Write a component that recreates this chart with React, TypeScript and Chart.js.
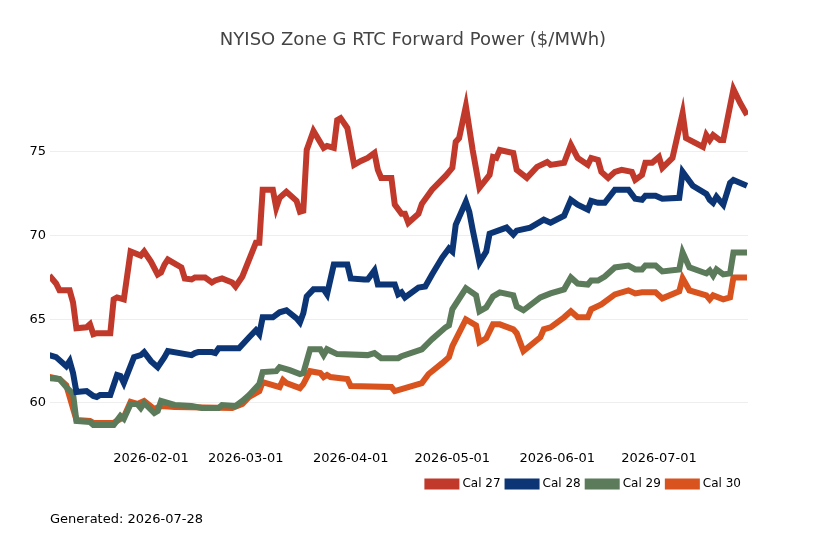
import React, { useEffect, useRef } from "react";
import { Chart, registerables } from "chart.js";
Chart.register(...registerables);

// [day offset from 2026-01-01, $/MWh]
const cal27: [number, number][] = [
  [1,67.62],[3,67.14],[4,66.73],[7,66.73],[8,66.01],[9,64.46],[12,64.52],[13,64.70],[14,64.11],[15,64.17],
  [19,64.17],[20,66.19],[21,66.31],[23,66.19],[25,69.05],[28,68.81],[29,69.05],[31,68.45],[33,67.68],[34,67.80],
  [35,68.27],[36,68.57],[40,68.10],[41,67.44],[43,67.38],[44,67.50],[47,67.50],[49,67.20],[50,67.32],[52,67.44],
  [55,67.20],[56,66.96],[58,67.56],[62,69.58],[63,69.58],[64,72.74],[67,72.74],[68,71.67],[69,72.26],[71,72.62],
  [74,72.08],[75,71.43],[76,71.49],[77,75.12],[79,76.25],[82,75.24],[83,75.36],[85,75.24],[86,76.90],[87,77.02],
  [89,76.43],[91,74.23],[93,74.46],[95,74.64],[97,74.94],[98,73.93],[99,73.45],[102,73.45],[103,71.85],[105,71.31],
  [106,71.31],[107,70.77],[110,71.31],[111,71.90],[114,72.74],[118,73.57],[120,74.05],[121,75.60],[122,75.83],[124,77.74],
  [126,75.12],[128,72.86],[131,73.63],[132,74.70],[133,74.64],[134,75.12],[138,74.94],[139,73.93],[142,73.45],[145,74.11],
  [148,74.40],[149,74.23],[153,74.35],[155,75.42],[157,74.64],[160,74.23],[161,74.64],[163,74.52],[164,73.81],[166,73.45],
  [168,73.81],[170,73.93],[173,73.81],[174,73.33],[176,73.63],[177,74.35],[179,74.35],[181,74.70],[182,74.05],[185,74.64],
  [188,77.32],[189,75.83],[194,75.30],[195,76.01],[196,75.71],[197,76.01],[199,75.71],[200,75.71],[203,78.75],[205,77.92],
  [207,77.20],
];
const cal28: [number, number][] = [
  [1,62.86],[3,62.74],[6,62.20],[7,62.50],[8,61.79],[9,60.65],[12,60.71],[14,60.42],[15,60.36],[16,60.48],
  [19,60.48],[21,61.67],[22,61.61],[23,61.19],[26,62.74],[28,62.86],[29,63.04],[31,62.50],[33,62.14],[35,62.74],
  [36,63.10],[43,62.86],[44,62.98],[45,63.04],[49,63.04],[50,62.98],[51,63.27],[57,63.27],[60,63.93],[62,64.35],
  [63,64.11],[64,65.12],[67,65.12],[69,65.42],[71,65.54],[74,65.06],[75,64.82],[76,65.36],[77,66.37],[79,66.79],
  [82,66.79],[83,66.49],[85,68.27],[89,68.27],[90,67.44],[94,67.38],[95,67.38],[97,67.92],[98,67.08],[103,67.08],
  [104,66.49],[105,66.61],[106,66.31],[110,66.90],[112,66.96],[114,67.68],[117,68.69],[119,69.23],[120,69.05],[121,70.65],
  [124,72.02],[125,71.43],[126,70.36],[128,68.39],[130,69.05],[131,70.12],[136,70.48],[138,70.06],[139,70.30],[143,70.48],
  [147,70.95],[149,70.77],[153,71.19],[155,72.14],[157,71.85],[160,71.55],[161,72.08],[163,71.96],[165,71.96],[168,72.74],
  [172,72.74],[174,72.20],[176,72.14],[177,72.38],[180,72.38],[182,72.20],[187,72.26],[188,73.81],[191,72.98],[195,72.50],
  [196,72.14],[197,71.96],[198,72.32],[199,72.08],[200,71.85],[202,73.15],[203,73.33],[207,72.98],
];
const cal29: [number, number][] = [
  [1,61.49],[4,61.43],[6,60.95],[8,60.54],[9,58.93],[13,58.87],[14,58.69],[20,58.69],[22,59.23],[23,59.05],
  [25,59.94],[27,59.94],[28,59.70],[29,60.00],[32,59.40],[33,59.52],[34,60.12],[38,59.88],[43,59.82],[46,59.70],
  [51,59.70],[52,59.88],[56,59.82],[58,60.12],[60,60.48],[63,61.13],[64,61.85],[68,61.90],[69,62.14],[72,61.96],
  [75,61.73],[76,61.79],[78,63.21],[81,63.21],[82,62.86],[83,63.21],[86,62.92],[95,62.86],[97,62.98],[99,62.68],
  [104,62.68],[105,62.80],[111,63.21],[114,63.81],[118,64.52],[119,64.64],[120,65.60],[124,66.85],[127,66.43],[128,65.48],
  [130,65.71],[132,66.37],[134,66.61],[138,66.43],[139,65.77],[141,65.54],[146,66.31],[149,66.55],[153,66.79],[155,67.50],
  [157,67.14],[160,67.08],[161,67.32],[163,67.32],[165,67.56],[168,68.10],[172,68.21],[174,67.98],[176,67.98],[177,68.21],
  [180,68.21],[182,67.86],[187,67.98],[188,68.99],[190,68.10],[195,67.74],[196,67.92],[197,67.62],[198,67.98],[200,67.68],
  [202,67.74],[203,68.99],[207,68.99],
];
const cal30: [number, number][] = [
  [1,61.55],[4,61.43],[6,61.07],[9,58.99],[13,58.93],[14,58.81],[20,58.81],[23,59.17],[25,60.06],[27,59.94],
  [29,60.12],[32,59.64],[34,59.82],[38,59.76],[55,59.70],[58,59.94],[60,60.36],[63,60.71],[64,61.25],[69,60.95],
  [70,61.37],[71,61.19],[75,60.89],[76,61.13],[78,61.90],[81,61.79],[82,61.55],[83,61.67],[84,61.55],[89,61.43],
  [90,61.01],[102,60.95],[103,60.71],[105,60.83],[111,61.19],[113,61.73],[117,62.38],[119,62.74],[120,63.39],[124,64.99],
  [127,64.64],[128,63.63],[130,63.87],[132,64.70],[134,64.70],[138,64.40],[139,64.17],[141,63.10],[146,63.93],[147,64.40],
  [149,64.52],[153,65.12],[155,65.48],[157,65.12],[160,65.12],[161,65.60],[164,65.89],[168,66.49],[172,66.73],[174,66.55],
  [176,66.61],[180,66.61],[182,66.25],[187,66.67],[188,67.44],[190,66.73],[195,66.43],[196,66.19],[197,66.43],[200,66.19],
  [202,66.31],[203,67.50],[207,67.50],
];

const seriesNames = ["Cal 27", "Cal 28", "Cal 29", "Cal 30"];
const seriesColors = ["#c0392b", "#0b3575", "#5b7b5a", "#d9531e"];
const monthTickDays = [31, 59, 90, 120, 151, 181];
const monthTickLabels = ["2026-02-01", "2026-03-01", "2026-04-01", "2026-05-01", "2026-06-01", "2026-07-01"];
const yTicks = [60, 65, 70, 75];
const titleText = "NYISO Zone G RTC Forward Power ($/MWh)";
const footerText = "Generated: 2026-07-28";

const FONT = "'DejaVu Sans', sans-serif";

export default function App() {
  const ref = useRef<HTMLCanvasElement>(null);
  useEffect(() => {
    document.body.style.margin = "0";
    const all = [cal27, cal28, cal29, cal30];
    const texts = {
      id: "texts",
      afterDraw(c: any) {
        const ctx = c.ctx;
        ctx.save();
        ctx.textBaseline = "middle";
        ctx.font = `13px ${FONT}`;
        ctx.fillStyle = "#000";
        ctx.textAlign = "left";
        ctx.fillText(footerText, 50, 520);
        ctx.font = `18px ${FONT}`;
        ctx.fillStyle = "#444";
        ctx.textAlign = "center";
        ctx.fillText(titleText, 413, 40);
        ctx.restore();
      },
    };
    const chart = new Chart(ref.current!, {
      type: "line",
      data: {
        datasets: all.map((d, i) => ({
          label: seriesNames[i],
          data: d.map(([x, y]) => ({ x, y })),
          borderColor: seriesColors[i],
          backgroundColor: seriesColors[i],
          borderWidth: 6,
          pointRadius: 0,
          tension: 0,
          borderJoinStyle: "miter" as const,
        })),
      },
      options: {
        animation: false,
        responsive: false,
        layout: { padding: { left: 0, right: 70, top: 80, bottom: 45 } },
        plugins: {
          title: { display: false },
          legend: {
            position: "bottom",
            align: "end",
            labels: {
              boxWidth: 29,
              boxHeight: 5,
              color: "#000",
              font: { family: FONT, size: 12 },
              padding: 7,
            },
          },
          tooltip: { enabled: false },
        },
        scales: {
          x: {
            type: "linear",
            min: 1.2,
            max: 207.3,
            grid: { display: false, drawTicks: false },
            border: { display: false },
            afterBuildTicks: (s: any) => {
              s.ticks = monthTickDays.map((v) => ({ value: v }));
            },
            afterFit: (s: any) => {
              s.height = 22;
            },
            ticks: {
              autoSkip: false,
              maxRotation: 0,
              color: "#000",
              font: { family: FONT, size: 13 },
              padding: 2,
              callback: (v: any) => monthTickLabels[monthTickDays.indexOf(Number(v))] ?? "",
            },
          },
          y: {
            min: 57.25,
            max: 79.3,
            grid: { color: "#eeeeee", lineWidth: 1, drawTicks: false },
            border: { display: false },
            afterBuildTicks: (s: any) => {
              s.ticks = yTicks.map((v) => ({ value: v }));
            },
            afterFit: (s: any) => {
              s.width = 50;
            },
            ticks: {
              color: "#000",
              font: { family: FONT, size: 13 },
              padding: 4,
            },
          },
        },
      },
      plugins: [texts],
    });
    return () => chart.destroy();
  }, []);
  return <canvas ref={ref} width={818} height={545} style={{ display: "block" }} />;
}
